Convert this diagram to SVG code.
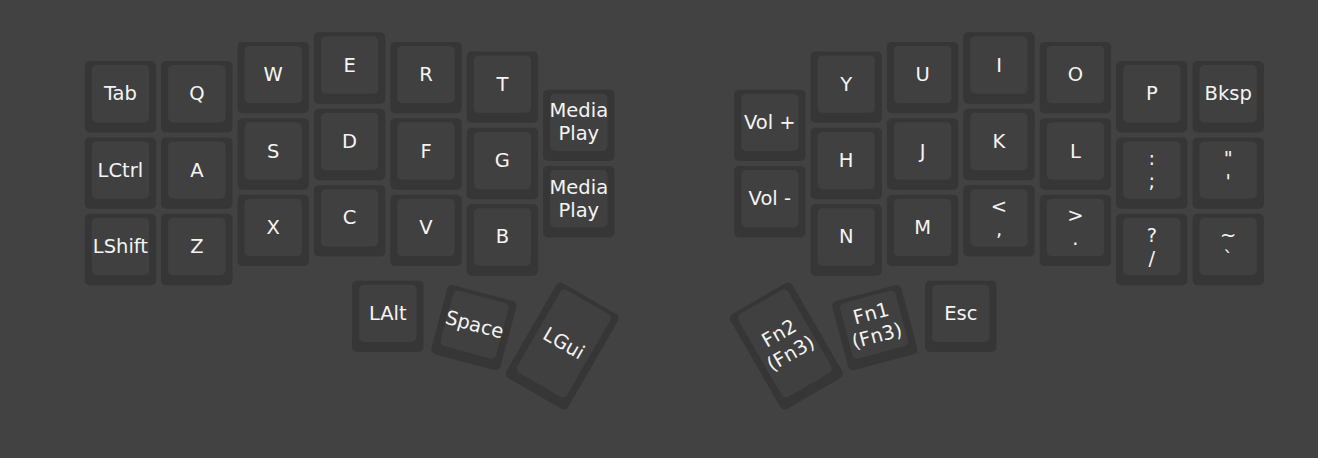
<svg xmlns="http://www.w3.org/2000/svg" width="1318" height="458" viewBox="0 0 1318 458">
<style>
.o{fill:#363636}
.i{fill:#404040}
text{font-family:"DejaVu Sans","Verdana",sans-serif;font-size:19.5px;fill:#f4f4f4;text-anchor:middle}
</style>
<defs>
<g id="k"><rect class="o" x="-35.7" y="-35.7" width="71.4" height="71.4" rx="5"/><rect class="i" x="-28.7" y="-31.7" width="57.4" height="57.4" rx="5"/></g>
<g id="kt"><rect class="o" x="-35.7" y="-54.8" width="71.4" height="109.6" rx="5"/><rect class="i" x="-28.7" y="-50.8" width="57.4" height="95.6" rx="5"/></g>
</defs>
<rect width="1318" height="458" fill="#424242"/>
<g id="left">
<g id="k-tab" transform="translate(120.4,96.7)"><use href="#k"/><text y="3.5">Tab</text></g>
<g id="k-lctrl" transform="translate(120.4,173.1)"><use href="#k"/><text y="3.5">LCtrl</text></g>
<g id="k-lshift" transform="translate(120.4,249.5)"><use href="#k"/><text y="3.5">LShift</text></g>
<g id="k-q" transform="translate(196.8,96.7)"><use href="#k"/><text y="3.5">Q</text></g>
<g id="k-a" transform="translate(196.8,173.1)"><use href="#k"/><text y="3.5">A</text></g>
<g id="k-z" transform="translate(196.8,249.5)"><use href="#k"/><text y="3.5">Z</text></g>
<g id="k-w" transform="translate(273.2,77.6)"><use href="#k"/><text y="3.5">W</text></g>
<g id="k-s" transform="translate(273.2,154)"><use href="#k"/><text y="3.5">S</text></g>
<g id="k-x" transform="translate(273.2,230.4)"><use href="#k"/><text y="3.5">X</text></g>
<g id="k-e" transform="translate(349.6,68.05)"><use href="#k"/><text y="3.5">E</text></g>
<g id="k-d" transform="translate(349.6,144.45)"><use href="#k"/><text y="3.5">D</text></g>
<g id="k-c" transform="translate(349.6,220.85)"><use href="#k"/><text y="3.5">C</text></g>
<g id="k-r" transform="translate(426,77.6)"><use href="#k"/><text y="3.5">R</text></g>
<g id="k-f" transform="translate(426,154)"><use href="#k"/><text y="3.5">F</text></g>
<g id="k-v" transform="translate(426,230.4)"><use href="#k"/><text y="3.5">V</text></g>
<g id="k-t" transform="translate(502.4,87.15)"><use href="#k"/><text y="3.5">T</text></g>
<g id="k-g" transform="translate(502.4,163.55)"><use href="#k"/><text y="3.5">G</text></g>
<g id="k-b" transform="translate(502.4,239.95)"><use href="#k"/><text y="3.5">B</text></g>
<g id="k-media1" transform="translate(578.8,125.35)"><use href="#k"/><text y="-8">Media</text><text y="15">Play</text></g>
<g id="k-media2" transform="translate(578.8,201.75)"><use href="#k"/><text y="-8">Media</text><text y="15">Play</text></g>
<g id="k-lalt" transform="translate(387.8,316.35)"><use href="#k"/><text y="3.5">LAlt</text></g>
<g id="k-space" transform="translate(473.8,327.6) rotate(15)"><use href="#k"/><text y="3.5">Space</text></g>
<g id="k-lgui" transform="translate(562.2,346) rotate(30)"><use href="#kt"/><text y="3.5">LGui</text></g>
</g>
<g id="right">
<g id="k-volup" transform="translate(769.8,125.35)"><use href="#k"/><text y="3.5">Vol +</text></g>
<g id="k-voldn" transform="translate(769.8,201.75)"><use href="#k"/><text y="3.5">Vol -</text></g>
<g id="k-y" transform="translate(846.2,87.15)"><use href="#k"/><text y="3.5">Y</text></g>
<g id="k-h" transform="translate(846.2,163.55)"><use href="#k"/><text y="3.5">H</text></g>
<g id="k-n" transform="translate(846.2,239.95)"><use href="#k"/><text y="3.5">N</text></g>
<g id="k-u" transform="translate(922.6,77.6)"><use href="#k"/><text y="3.5">U</text></g>
<g id="k-j" transform="translate(922.6,154)"><use href="#k"/><text y="3.5">J</text></g>
<g id="k-m" transform="translate(922.6,230.4)"><use href="#k"/><text y="3.5">M</text></g>
<g id="k-i" transform="translate(999,68.05)"><use href="#k"/><text y="3.5">I</text></g>
<g id="k-k" transform="translate(999,144.45)"><use href="#k"/><text y="3.5">K</text></g>
<g id="k-comma" transform="translate(999,220.85)"><use href="#k"/><text y="-8">&lt;</text><text y="15">,</text></g>
<g id="k-o" transform="translate(1075.4,77.6)"><use href="#k"/><text y="3.5">O</text></g>
<g id="k-l" transform="translate(1075.4,154)"><use href="#k"/><text y="3.5">L</text></g>
<g id="k-period" transform="translate(1075.4,230.4)"><use href="#k"/><text y="-8">&gt;</text><text y="15">.</text></g>
<g id="k-p" transform="translate(1151.8,96.7)"><use href="#k"/><text y="3.5">P</text></g>
<g id="k-semi" transform="translate(1151.8,173.1)"><use href="#k"/><text y="-8">:</text><text y="15">;</text></g>
<g id="k-slash" transform="translate(1151.8,249.5)"><use href="#k"/><text y="-8">?</text><text y="15">/</text></g>
<g id="k-bksp" transform="translate(1228.2,96.7)"><use href="#k"/><text y="3.5">Bksp</text></g>
<g id="k-quote" transform="translate(1228.2,173.1)"><use href="#k"/><text y="-8">"</text><text y="15">'</text></g>
<g id="k-grave" transform="translate(1228.2,249.5)"><use href="#k"/><text y="-8">~</text><text y="15">`</text></g>
<g id="k-esc" transform="translate(960.8,316.35)"><use href="#k"/><text y="3.5">Esc</text></g>
<g id="k-fn1" transform="translate(874.8,327.6) rotate(-15)"><use href="#k"/><text y="-8">Fn1</text><text y="15">(Fn3)</text></g>
<g id="k-fn2" transform="translate(786.4,346) rotate(-30)"><use href="#kt"/><text y="-8">Fn2</text><text y="15">(Fn3)</text></g>
</g>
</svg>
